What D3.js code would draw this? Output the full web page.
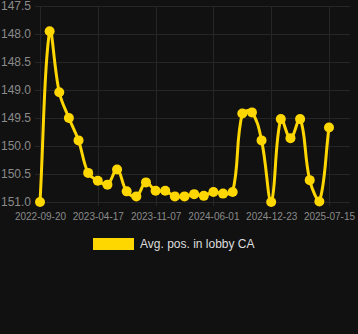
<!DOCTYPE html>
<html>
<head>
<meta charset="utf-8">
<script src="https://cdn.jsdelivr.net/npm/d3@7"></script>
<style>
  html, body { margin: 0; padding: 0; background: #111111; }
  svg { display: block; }
</style>
</head>
<body>
<svg id="chart"></svg>
<script>
// dates of each observation (only every 6th one is labelled on the axis)
var dates = ['2022-09-20', '2022-10-25', '2022-11-29', '2023-01-03', '2023-02-07', '2023-03-14',
             '2023-04-17', '2023-05-22', '2023-06-26', '2023-07-31', '2023-09-04', '2023-10-04',
             '2023-11-07', '2023-12-12', '2024-01-16', '2024-02-20', '2024-03-26', '2024-04-27',
             '2024-06-01', '2024-07-06', '2024-08-10', '2024-09-14', '2024-10-19', '2024-11-19',
             '2024-12-23', '2025-01-27', '2025-03-03', '2025-04-07', '2025-05-12', '2025-06-12',
             '2025-07-15'];
var avgPos = [151.0, 147.95, 149.04, 149.5, 149.9, 150.48, 150.62, 150.69, 150.42, 150.81, 150.9,
              150.65, 150.8, 150.8, 150.9, 150.9, 150.86, 150.89, 150.82, 150.85, 150.82,
              149.42, 149.4, 149.9, 151.0, 149.52, 149.86, 149.52, 150.61, 150.99, 149.67];
var yTicks = [147.5, 148.0, 148.5, 149.0, 149.5, 150.0, 150.5, 151.0];
var seriesName = 'Avg. pos. in lobby CA';

var W = 358, H = 334;
var plot = { left: 35, right: 350, top: 6, bottom: 202 };
var lineColor = '#FFD700';
var tension = 0.4;

var svg = d3.select('#chart').attr('width', W).attr('height', H);

var x = d3.scalePoint()
          .domain(dates)
          .range([40, 329]);

var y = d3.scaleLinear()
          .domain([147.5, 151.0])
          .range([plot.top, plot.bottom]);

// horizontal grid
svg.append('g')
   .selectAll('line')
   .data(yTicks)
   .enter()
   .append('line')
   .attr('x1', plot.left)
   .attr('x2', plot.right)
   .attr('y1', function(d) { return Math.round(y(d)) + 0.5; })
   .attr('y2', function(d) { return Math.round(y(d)) + 0.5; })
   .attr('stroke', '#262626')
   .attr('stroke-width', 1);

var labelled = dates.filter(function(d, i) { return i % 6 === 0; });

// vertical grid
svg.append('g')
   .selectAll('line')
   .data(labelled)
   .enter()
   .append('line')
   .attr('x1', function(d) { return Math.round(x(d)) + 0.5; })
   .attr('x2', function(d) { return Math.round(x(d)) + 0.5; })
   .attr('y1', plot.top)
   .attr('y2', plot.bottom + 4)
   .attr('stroke', '#262626')
   .attr('stroke-width', 1);

// y axis
var yAxis = d3.axisLeft(y)
              .tickValues(yTicks)
              .tickFormat(d3.format('.1f'))
              .tickSize(0)
              .tickPadding(0);

var gy = svg.append('g')
            .attr('transform', 'translate(31,0)')
            .call(yAxis);
gy.select('.domain').remove();
gy.selectAll('text')
  .attr('fill', '#8a8a8a')
  .style('font-family', 'Liberation Sans, Arial, sans-serif')
  .style('font-size', '12px');

// x axis
var xAxis = d3.axisBottom(x)
              .tickValues(labelled)
              .tickSize(0)
              .tickPadding(0);

var gx = svg.append('g')
            .attr('transform', 'translate(0,' + 213 + ')')
            .call(xAxis);
gx.select('.domain').remove();
gx.selectAll('text')
  .attr('fill', '#8a8a8a')
  .style('font-family', 'Liberation Sans, Arial, sans-serif')
  .style('font-size', '10px');

// spline through the points, distance weighted control points
var pts = avgPos.map(function(d, i) { return [x(dates[i]), y(d)]; });

function clamp(v, lo, hi) { return Math.max(lo, Math.min(hi, v)); }

var ctrl = pts.map(function(p, i) {
  var prev = pts[i - 1] || p, next = pts[i + 1] || p;
  var d01 = Math.hypot(p[0] - prev[0], p[1] - prev[1]);
  var d12 = Math.hypot(next[0] - p[0], next[1] - p[1]);
  var s01 = d01 / (d01 + d12) || 0, s12 = d12 / (d01 + d12) || 0;
  var fa = tension * s01, fb = tension * s12;
  var dx = next[0] - prev[0], dy = next[1] - prev[1];
  return {
    inX: clamp(p[0] - fa * dx, plot.left, plot.right),
    inY: clamp(p[1] - fa * dy, plot.top, plot.bottom),
    outX: clamp(p[0] + fb * dx, plot.left, plot.right),
    outY: clamp(p[1] + fb * dy, plot.top, plot.bottom)
  };
});

var path = d3.path();
pts.forEach(function(p, i) {
  if (i === 0) { path.moveTo(p[0], p[1]); return; }
  path.bezierCurveTo(ctrl[i - 1].outX, ctrl[i - 1].outY, ctrl[i].inX, ctrl[i].inY, p[0], p[1]);
});

svg.append('path')
   .attr('d', path.toString())
   .attr('fill', 'none')
   .attr('stroke', lineColor)
   .attr('stroke-width', 3)
   .attr('stroke-linejoin', 'round');

svg.append('g')
   .selectAll('circle')
   .data(avgPos)
   .enter()
   .append('circle')
   .attr('cx', function(d, i) { return x(dates[i]); })
   .attr('cy', function(d) { return y(d); })
   .attr('r', 5)
   .attr('fill', lineColor);

// legend
var legend = svg.append('g');
legend.append('rect')
      .attr('x', 93)
      .attr('y', 238)
      .attr('width', 41)
      .attr('height', 12)
      .attr('fill', lineColor);
legend.append('text')
      .attr('x', 140)
      .attr('y', 248)
      .attr('fill', '#dddddd')
      .style('font-family', 'Liberation Sans, Arial, sans-serif')
      .style('font-size', '12px')
      .text(seriesName);
</script>
</body>
</html>
